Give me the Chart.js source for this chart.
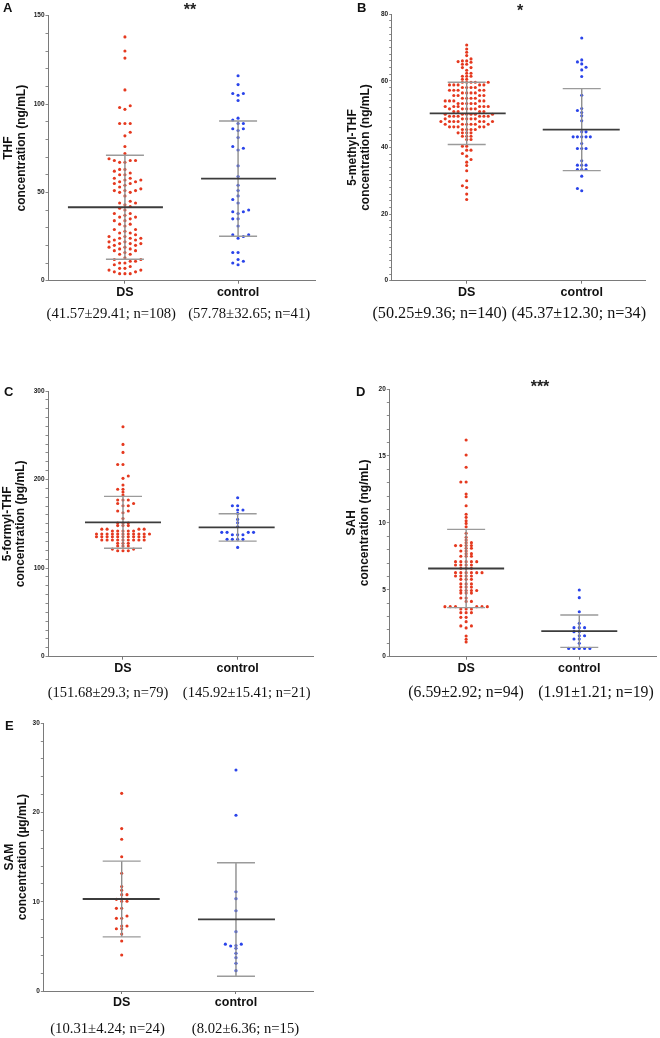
<!DOCTYPE html>
<html><head><meta charset="utf-8">
<script src="https://cdn.jsdelivr.net/npm/chart.js@4.4.1/dist/chart.umd.min.js"></script>
<style>
html,body{margin:0;padding:0;background:#fff;}
#page{position:relative;width:660px;height:1038px;overflow:hidden;background:#fff;}
canvas{position:absolute;}
.t{position:absolute;white-space:nowrap;line-height:1;}
.letter{font-family:"Liberation Sans",Arial,sans-serif;font-weight:bold;font-size:13px;color:#111;}
.stars{font-family:"Liberation Sans",Arial,sans-serif;font-weight:bold;font-size:16px;color:#222;transform:translateX(-50%);}
.stat{font-family:"Liberation Serif","Times New Roman",serif;color:#111;transform:translate(-50%,-50%);}
</style></head><body><div id="page"></div>
<script>
// ---------- DATA ----------
const categories = ['DS', 'control'];

// A: THF (ng/mL)
const thfDS = [138,130,126,108,99,98,97,89,89,89,84,82,76,72,
  69,68,68,67,67,68,63,63,62,60,60,61,58,58,57,57,56,56,55,55,54,53,52,51,51,51,50,50,48,
  45,44,44,43,42,41,40,38,38,37,36,36,35,34,34,32,32,31,29,29,28,27,27,26,
  25,25,24,24,24,23,23,22,22,21,21,21,20,20,19,19,18,18,17,17,16,15,15,
  13,12,12,11,11,10,10,9,8,7,7,6,6,5,5,4,4,4];
const thfControl = [116,111,106,106,105,102,92,91,89,89,86,86,85,81,76,75,74,65,59,54,51,48,46,44,
  40,39,39,38,35,35,31,26,26,25,24,16,16,12,11,10,9];
const thfMean = [41.57, 57.78];
const thfSd = [29.41, 32.65];
const thfStats = ['(41.57±29.41; n=108)', '(57.78±32.65; n=41)'];
const thfYTicks = [0, 50, 100, 150];

// B: 5-methyl-THF (ng/mL)
const methylDS = [70.8,69.6,68.6,67.6,66.6,66,66,65.8,65.6,65,65,64,64,63.2,62.3,62.3,61.4,61.4,61.4,60.5,60.5,
  59.6,59.6,59.6,59.6,59.6,58.8,58.8,58.8,58.8,58.8,58,58,58,58,57.2,57.2,57.2,57.2,57.2,
  56.4,56.4,56.4,56.4,55.6,55.6,55.6,55.6,54.8,54.8,54.8,54.8,54,54,54,54,54,53.2,53.2,53.2,53.2,53.2,
  52.3,52.3,52.3,52.3,52.3,52.3,51.6,51.6,51.6,51.6,51.6,50.8,50.8,50.8,50.8,50,50,50,50,50,50,
  49.4,49.4,49.4,49.4,49.4,49.4,48.6,48.6,48.6,48.6,48.6,47.8,47.8,47.8,47.8,47.8,47.8,47.8,
  47,47,47,47,47,47,46.2,46.2,46.2,46.2,46.2,45.4,45.4,45.4,45.4,44.4,44.4,44.4,44.4,43.4,43.4,43.4,
  42.4,42.4,40.4,40.4,39.2,39.2,38.2,37.4,36.4,35.6,34.6,33,30,28.5,28,26,24.4];
const methylControl = [72.9,66.3,65.7,65.1,64.1,63.3,61.3,55.7,51.7,51.1,50.5,49.5,48,44.7,44.7,
  43.2,43.2,43.2,43.2,43.2,41.2,39.7,39.7,39.7,36,34.7,34.7,34.7,33.4,33.4,33.4,31.4,27.7,27];
const methylMean = [50.25, 45.37];
const methylSd = [9.36, 12.30];
const methylStats = ['(50.25±9.36; n=140)', '(45.37±12.30; n=34)'];
const methylYTicks = [0, 20, 40, 60, 80];

// C: 5-formyl-THF (pg/mL)
const formylDS = [259.7,239.7,230.7,217,217,204,201.4,193.8,189,189,186,182.5,177,177,177,173,173,170.5,170.5,
  164.5,164.5,162.6,156,151,151,151,148,148,148,144,144,144,144,142,142,142,142,142,
  138.5,138.5,138.5,138.5,138.5,138.5,138.5,138.5,138.5,138.5,138.5,
  135.5,135.5,135.5,135.5,135.5,135.5,135.5,135.5,135.5,135.5,
  131.7,131.7,131.7,131.7,131.7,131.7,131.7,131.7,131.7,
  128,128,128,125,125,125,121.5,121.5,119.7,119.7,119.7];
const formylControl = [179.5,170.5,170.5,165.6,165.6,161.8,155,151.3,146.8,140.4,140.4,140.4,140.4,
  137.7,137.7,137.7,132.5,132.5,132.5,132.5,123.4];
const formylMean = [151.68, 145.92];
const formylSd = [29.3, 15.41];
const formylStats = ['(151.68±29.3; n=79)', '(145.92±15.41; n=21)'];
const formylYTicks = [0, 100, 200, 300];

// D: SAH (ng/mL)
const sahDS = [16.19,15.07,14.15,13.05,13.05,12.15,11.95,11.28,10.64,10.41,10.16,9.96,9.7,9.22,8.92,8.72,
  8.52,8.52,8.3,8.3,8.3,8.3,8.1,8.1,7.9,7.9,7.7,7.7,7.5,7.5,7.5,7.1,7.1,7.1,7.1,7.1,
  6.85,6.85,6.85,6.85,6.6,6.6,6.6,6.28,6.28,6.28,6.28,6.28,6.28,6.03,6.03,6.03,6.03,
  5.78,5.78,5.78,5.44,5.44,5.44,5.2,5.2,5.2,4.95,4.95,4.95,4.95,4.75,4.75,4.75,4.38,4.38,4.13,4.13,
  3.74,3.74,3.74,3.74,3.74,3.74,3.56,3.56,3.56,3.29,3.29,3.29,2.94,2.94,2.62,2.3,2.3,2.15,1.55,1.3,1.1];
const sahControl = [4.98,4.41,3.36,2.49,2.17,2.17,2.17,1.87,1.87,1.57,1.57,1.32,1.32,1.0,0.62,0.62,0.62,0.62,0.62];
const sahMean = [6.59, 1.91];
const sahSd = [2.92, 1.21];
const sahStats = ['(6.59±2.92; n=94)', '(1.91±1.21; n=19)'];
const sahYTicks = [0, 5, 10, 15, 20];

// E: SAM (µg/mL)
const samDS = [22.15,18.2,17.0,15.05,13.2,11.7,11.3,10.8,10.8,10.27,10.05,10.05,9.26,9.26,8.4,8.14,8.14,
  7.28,7.28,6.98,6.98,6.39,5.6,4.03];
const samControl = [24.77,19.69,11.13,10.35,9.0,6.65,5.25,5.25,5.1,5.04,4.78,4.22,3.74,3.1,2.28];
const samMean = [10.31, 8.02];
const samSd = [4.24, 6.36];
const samStats = ['(10.31±4.24; n=24)', '(8.02±6.36; n=15)'];
const samYTicks = [0, 10, 20, 30];

// ---------- STYLE / LAYOUT ----------
const RED = '#e5391f';
const BLUE = '#2a44ea';
const SANS = '"Liberation Sans", Arial, sans-serif';

const panels = [
  {letter:'A', title:['THF','concentration (ng/mL)'], ds:thfDS, ctl:thfControl, mean:thfMean, sd:thfSd, stats:thfStats,
   yTicks:thfYTicks, minor:10, stars:'**',
   g:{x0:0,y0:0,w:330,axisL:48,axisT:15.7,axisB:280.7,axisR:315,xMin:0.32,xMax:2.68,titleL:2,sx:5.3,sy:3.6,
      statY:313,statX:[111.3,249.2],statFs:14.7,letterXY:[3,1.3],starXY:[190,1.8],meanHalf:[[57,38],[37,38]]}},
  {letter:'B', title:['5-methyl-THF','concentration (ng/mL)'], ds:methylDS, ctl:methylControl, mean:methylMean, sd:methylSd, stats:methylStats,
   yTicks:methylYTicks, minor:2, stars:'*',
   g:{x0:330,y0:0,w:330,axisL:391.7,axisT:14.3,axisB:280.7,axisR:645,xMin:0.348,xMax:2.55,titleL:16,sx:4.3,sy:2.9,
      statY:313,statX:[439.7,578.8],statFs:16.2,letterXY:[357,1.3],starXY:[520,2.8],meanHalf:[[37,39],[39,38]]}},
  {letter:'C', title:['5-formyl-THF','concentration (pg/mL)'], ds:formylDS, ctl:formylControl, mean:formylMean, sd:formylSd, stats:formylStats,
   yTicks:formylYTicks, minor:10, stars:'',
   g:{x0:0,y0:330,w:330,axisL:48,axisT:391,axisB:656.7,axisR:313,xMin:0.346,xMax:2.657,titleL:1,sx:5.3,sy:2.5,
      statY:691.7,statX:[108,246.7],statFs:14.5,letterXY:[4,384.5],starXY:[0,0],meanHalf:[[38,38],[39,37]]}},
  {letter:'D', title:['SAH','concentration (ng/mL)'], ds:sahDS, ctl:sahControl, mean:sahMean, sd:sahSd, stats:sahStats,
   yTicks:sahYTicks, minor:1, stars:'***',
   g:{x0:330,y0:330,w:330,axisL:389.3,axisT:389,axisB:656.7,axisR:658,xMin:0.321,xMax:2.678,titleL:15,sx:5.3,sy:2.5,
      statY:692,statX:[466,596],statFs:15.8,letterXY:[356,385],starXY:[540,379],meanHalf:[[38,38],[38,38]]}},
  {letter:'E', title:['SAM','concentration (µg/mL)'], ds:samDS, ctl:samControl, mean:samMean, sd:samSd, stats:samStats,
   yTicks:samYTicks, minor:2, stars:'',
   g:{x0:0,y0:660,w:330,axisL:43.3,axisT:723.3,axisB:991,axisR:313,xMin:0.314,xMax:2.674,titleL:3,sx:5.3,sy:2.5,
      statY:1028.3,statX:[107.5,245.5],statFs:14.7,letterXY:[5,718.5],starXY:[0,0],meanHalf:[[39,38],[38,39]]}}
];

// ---------- PLUGINS ----------
// Beeswarm: shift each point sideways (in pixel space) so that dots do not overlap.
const swarm = {
  id: 'swarm',
  afterDatasetsUpdate(chart, args, opts) {
    const sx = opts.sx, sy = opts.sy, h = sx / 2;
    chart.data.datasets.forEach((d, di) => {
      const meta = chart.getDatasetMeta(di);
      const els = meta.data.slice().sort((a, b) => b.y - a.y);
      const placed = [];
      let flip = false;
      els.forEach(el => {
        const near = placed.filter(q => Math.abs(q.y - el.y) < sy);
        const free = off => near.every(q => Math.abs(q.off - off) >= sx - 0.01);
        let best = 0;
        if (!free(0)) {
          for (let k = 1; k < 40; k++) {
            const a = flip ? k * h : -k * h;
            if (free(a)) { best = a; break; }
            if (free(-a)) { best = -a; break; }
          }
          flip = !flip;
        }
        placed.push({y: el.y, off: best});
        el.x = el.x + best;
      });
    });
  }
};

const meanSd = {
  id: 'meanSd',
  afterDatasetsDraw(chart, args, opts) {
    const {ctx} = chart;
    const xs = chart.scales.x, ys = chart.scales.y;
    opts.mean.forEach((m, i) => {
      const cx = xs.getPixelForValue(i + 1);
      const ym = ys.getPixelForValue(m);
      const yt = ys.getPixelForValue(m + opts.sd[i]);
      const yb = ys.getPixelForValue(m - opts.sd[i]);
      ctx.save();
      ctx.lineCap = 'butt';
      ctx.strokeStyle = '#8d8d8d';
      ctx.lineWidth = 1.4;
      ctx.beginPath(); ctx.moveTo(cx, yt); ctx.lineTo(cx, yb); ctx.stroke();
      ctx.strokeStyle = '#9b9b9b';
      ctx.beginPath();
      ctx.moveTo(cx - opts.cap, yt); ctx.lineTo(cx + opts.cap, yt);
      ctx.moveTo(cx - opts.cap, yb); ctx.lineTo(cx + opts.cap, yb);
      ctx.stroke();
      ctx.strokeStyle = '#3c3c3c';
      ctx.lineWidth = 1.8;
      ctx.beginPath();
      ctx.moveTo(cx - opts.half[i][0], ym); ctx.lineTo(cx + opts.half[i][1], ym);
      ctx.stroke();
      ctx.restore();
    });
  }
};

// ---------- BUILD ----------
const page = document.getElementById('page');

function addText(cls, txt, x, y, extra) {
  const d = document.createElement('div');
  d.className = 't ' + cls;
  d.textContent = txt;
  d.style.left = x + 'px';
  d.style.top = y + 'px';
  if (extra) Object.assign(d.style, extra);
  page.appendChild(d);
}

panels.forEach(p => {
  const g = p.g;
  const xH = 24;
  const h = g.axisB + xH - g.y0;
  const c = document.createElement('canvas');
  c.width = g.w; c.height = Math.round(h);
  c.style.left = g.x0 + 'px'; c.style.top = g.y0 + 'px';
  c.style.width = g.w + 'px'; c.style.height = Math.round(h) + 'px';
  page.appendChild(c);
  const yMax = p.yTicks[p.yTicks.length - 1];

  new Chart(c, {
    type: 'scatter',
    data: {
      datasets: [
        {label: categories[0], data: p.ds.map(v => ({x: 1, y: v})), pointBackgroundColor: RED, pointBorderWidth: 0, pointRadius: 1.55},
        {label: categories[1], data: p.ctl.map(v => ({x: 2, y: v})), pointBackgroundColor: BLUE, pointBorderWidth: 0, pointRadius: 1.55}
      ]
    },
    options: {
      responsive: false,
      animation: false,
      events: [],
      layout: {padding: {left: g.titleL, top: g.axisT - g.y0, right: g.x0 + g.w - g.axisR, bottom: Math.round(h) - h}},
      plugins: {
        legend: {display: false},
        tooltip: {enabled: false},
        swarm: {sx: g.sx, sy: g.sy},
        meanSd: {mean: p.mean, sd: p.sd, cap: 19, half: g.meanHalf}
      },
      scales: {
        x: {
          type: 'linear', min: g.xMin, max: g.xMax,
          afterBuildTicks: s => { s.ticks = [{value: 1}, {value: 2}]; },
          afterFit: s => { s.height = xH; },
          ticks: {callback: v => categories[Math.round(v) - 1], font: {family: SANS, weight: 'bold', size: 12.5}, color: '#111', padding: 1, autoSkip: false, maxRotation: 0},
          grid: {drawOnChartArea: false, tickLength: 3, tickColor: '#777'},
          border: {color: '#7a7a7a', width: 1}
        },
        y: {
          type: 'linear', min: 0, max: yMax,
          afterBuildTicks: s => {
            const t = [];
            for (let v = 0; v <= yMax + 1e-9; v += p.minor) t.push({value: Math.round(v * 1000) / 1000});
            s.ticks = t;
          },
          afterFit: s => { s.width = g.axisL - g.x0 - g.titleL; },
          ticks: {callback: v => p.yTicks.includes(v) ? String(v) : '', font: {family: SANS, weight: 'bold', size: 6.5}, color: '#222', padding: 1, autoSkip: false},
          grid: {drawOnChartArea: false, tickLength: 2.5, tickColor: '#8a8a8a'},
          border: {color: '#7a7a7a', width: 1},
          title: {display: true, text: p.title, font: {family: SANS, weight: 'bold', size: 12, lineHeight: 1.08}, color: '#111', padding: 0}
        }
      }
    },
    plugins: [swarm, meanSd]
  });

  addText('letter', p.letter, g.letterXY[0], g.letterXY[1]);
  if (p.stars) addText('stars', p.stars, g.starXY[0], g.starXY[1]);
  p.stats.forEach((s, i) => addText('stat', s, g.statX[i], g.statY, {fontSize: g.statFs + 'px'}));
});
</script>
</body></html>
